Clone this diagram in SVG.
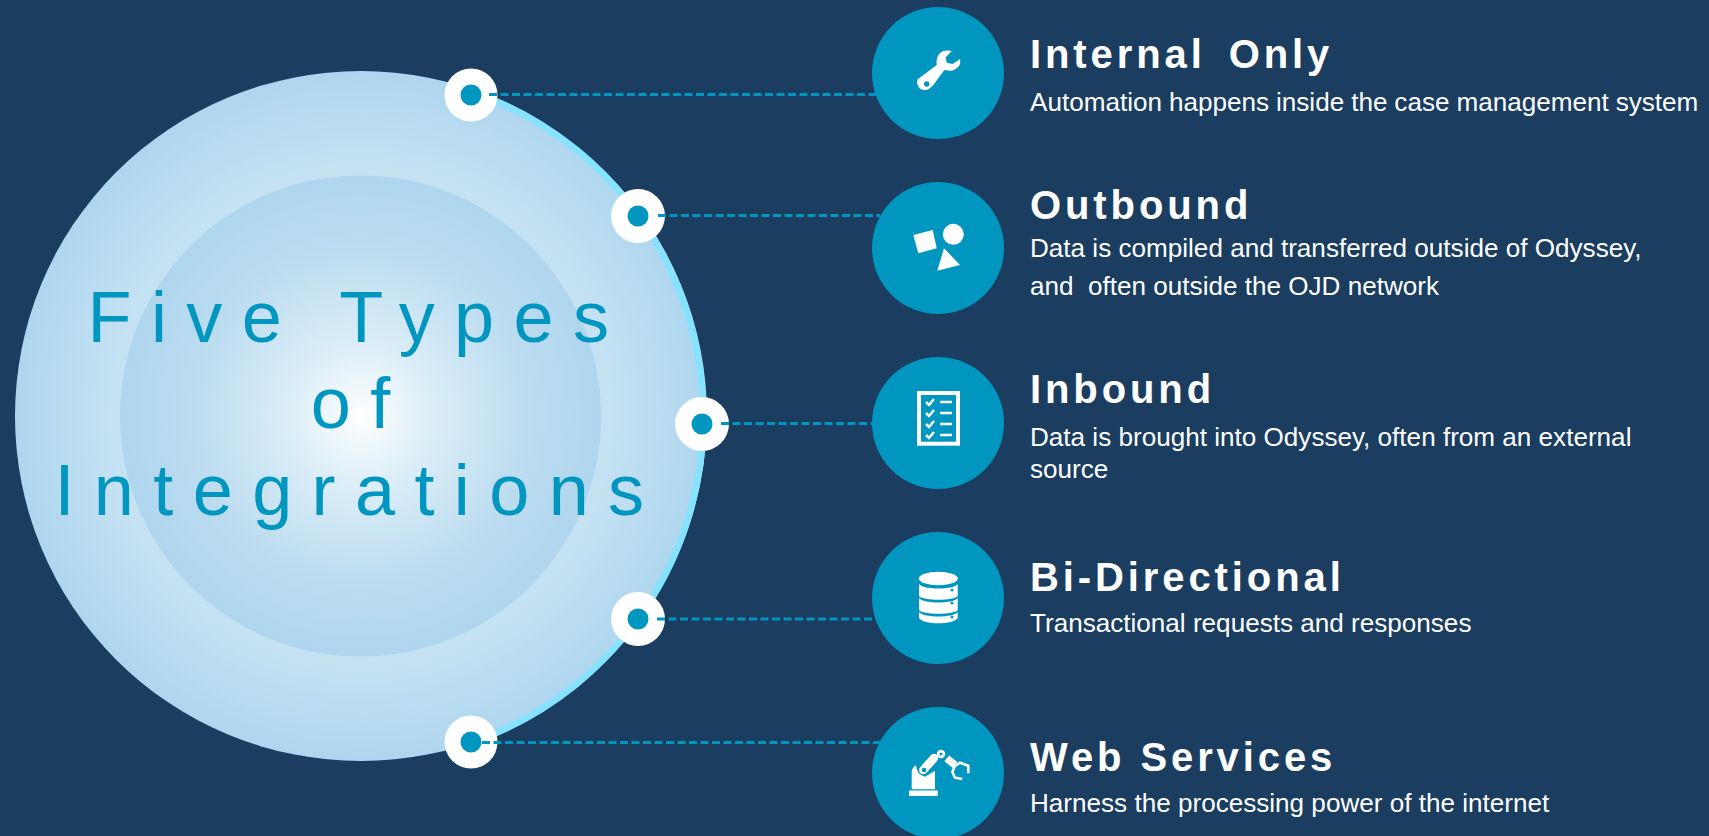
<svg xmlns="http://www.w3.org/2000/svg" width="1709" height="836" viewBox="0 0 1709 836">
<style>
.bg{fill:#1a3d60}
.ic{fill:#0096c0}
.w{fill:#fff}
.h{font:bold 40px "Liberation Sans",Arial,sans-serif;fill:#fff;letter-spacing:3.9px}
.d{font:26.1px "Liberation Sans",Arial,sans-serif;fill:#fff}
.t{font:72px "Liberation Sans",Arial,sans-serif;fill:#0096c0;text-anchor:middle;letter-spacing:19.400px}
.c{stroke:#0096c0;stroke-width:3;stroke-dasharray:8 3.500;fill:none}
.ln{fill:none;stroke:#fff}
</style>
<defs>
<radialGradient id="g1" gradientUnits="userSpaceOnUse" cx="361" cy="416" r="345"><stop offset="0" stop-color="#c8e4f4"/><stop offset=".72" stop-color="#c5e2f3"/><stop offset="1" stop-color="#aed6ee"/></radialGradient>
<radialGradient id="g2" gradientUnits="userSpaceOnUse" cx="361" cy="416" r="241"><stop offset="0" stop-color="#fff"/><stop offset=".12" stop-color="#eff7fb"/><stop offset=".35" stop-color="#d6ebf6"/><stop offset=".7" stop-color="#bcdcf0"/><stop offset="1" stop-color="#aed6ee"/></radialGradient>
</defs>
<rect class="bg" width="1709" height="836"/>
<g id="hub">
<ellipse cx="361" cy="416" rx="346" ry="345" fill="url(#g1)"/>
<path d="M490 98.400A344.500 344.500 0 0 1 490 735.600" fill="none" stroke="#85e3ff" stroke-width="6.500"/>
<circle cx="360.500" cy="416" r="240.500" fill="url(#g2)"/>
<text class="t" x="358" y="342">Five Types</text>
<text class="t" x="360.300" y="428">of</text>
<text class="t" x="359" y="514.500">Integrations</text>
</g>
<g id="marker-1"><circle class="w" cx="471" cy="95" r="26.500"/><circle class="ic" cx="471" cy="95" r="10.500"/></g>
<g id="marker-2"><circle class="w" cx="638" cy="216" r="27"/><circle class="ic" cx="638" cy="216" r="10.500"/></g>
<g id="marker-3"><circle class="w" cx="702" cy="424" r="27"/><circle class="ic" cx="702" cy="424" r="10.500"/></g>
<g id="marker-4"><circle class="w" cx="638" cy="619" r="27"/><circle class="ic" cx="638" cy="619" r="10.500"/></g>
<g id="marker-5"><circle class="w" cx="471" cy="742" r="26.500"/><circle class="ic" cx="471" cy="742" r="10.500"/></g>
<g id="connectors">
<path class="c" d="M489 94.500H880"/>
<path class="c" d="M658 215.500H880"/>
<path class="c" d="M721 423.500H880"/>
<path class="c" d="M657 619H880"/>
<path class="c" d="M482 742.500H880"/>
</g>
<g id="node-internal">
<circle class="ic" cx="938" cy="73" r="66"/>
<path class="w" d="M917.700 79.300L936.700 65C935.500 57 940 51 945 50.700Q949 50 951.700 51L945.700 57.300L946.700 62.700L952.700 64L960 59Q961 64 958.300 66.700Q954 71 950 70.700L944.300 70L933.300 85Q929 90 925 90Q919 90 917.700 85Q916.500 81 917.700 79.300Z"/>
<circle class="ic" cx="926.700" cy="84" r="2.700"/>
<text class="h" x="1030" y="68" xml:space="preserve" word-spacing="-3.500">Internal  Only</text>
<text class="d" x="1030" y="111" word-spacing="-.3">Automation happens inside the case management system</text>
</g>
<g id="node-outbound">
<circle class="ic" cx="938" cy="248" r="66"/>
<path class="w" d="M913.300 235L932.700 230L936.700 248.300L918.300 253.300Z"/><circle class="w" cx="953.300" cy="234.300" r="10.500"/><path class="w" d="M944 248.300L960 265L937.300 270.700Z"/>
<text class="h" x="1030" y="219">Outbound</text>
<text class="d" x="1030" y="257">Data is compiled and transferred outside of Odyssey,</text>
<text class="d" x="1030" y="295" xml:space="preserve">and  often outside the OJD network</text>
</g>
<g id="node-inbound">
<circle class="ic" cx="938" cy="423" r="66"/>
<rect class="ln" x="919" y="393" width="39" height="50.700" stroke-width="4"/>
<g class="ln" stroke-width="2.500"><path d="M926 402l3 3 5-6M926 413l3 3 5-6M926 424l3 3 5-6M926 435l3 3 5-6"/><path d="M940 402H952M940 413H952M940 424H952M940 435H952"/></g>
<text class="h" x="1030" y="403">Inbound</text>
<text class="d" x="1030" y="446">Data is brought into Odyssey, often from an external</text>
<text class="d" x="1030" y="478">source</text>
</g>
<g id="node-bidirectional">
<circle class="ic" cx="938" cy="598" r="66"/>
<ellipse class="w" cx="938.300" cy="578.500" rx="19.500" ry="6.800"/>
<path class="w" d="M919 584C923 590 954 590 957.700 584V596C954 601 923 601 919 596Z"/>
<path class="w" d="M919 598C923 604 954 604 957.700 598V610C954 615 923 615 919 610Z"/>
<path class="w" d="M919 612C923 618 954 618 957.700 612V618C954 625 923 625 919 618Z"/>
<circle class="ic" cx="952" cy="590" r="1.500"/><circle class="ic" cx="952" cy="603" r="1.500"/><circle class="ic" cx="952" cy="617" r="1.500"/>
<text class="h" x="1030" y="591">Bi-Directional</text>
<text class="d" x="1030" y="632">Transactional requests and responses</text>
</g>
<g id="node-web">
<circle class="ic" cx="938" cy="773" r="66"/>
<rect class="w" x="909" y="790.500" width="28.700" height="5.500"/>
<path class="w" d="M911.700 789.300V773.300Q911.700 767.300 916 765Q916.700 775 925 776.700L935 770.700V789.300Z"/>
<path class="ln" stroke-width="8.500" stroke-linecap="round" d="M923.300 770L934 758"/>
<circle class="ic" cx="924" cy="770" r="2.300"/>
<circle class="w" cx="941" cy="754" r="4.200"/><circle class="ic" cx="941" cy="754" r="1.500"/>
<path class="ln" stroke-width="7.500" d="M946.700 758.300L955 765"/>
<path class="ln" stroke-width="2.500" d="M955 766L960 762.700L968.300 765.700V773.300M955 766L952.300 771.700L955 777.700L962.300 779"/>
<text class="h" x="1030" y="771" xml:space="preserve">Web Services</text>
<text class="d" x="1030" y="812">Harness the processing power of the internet</text>
</g>
</svg>
